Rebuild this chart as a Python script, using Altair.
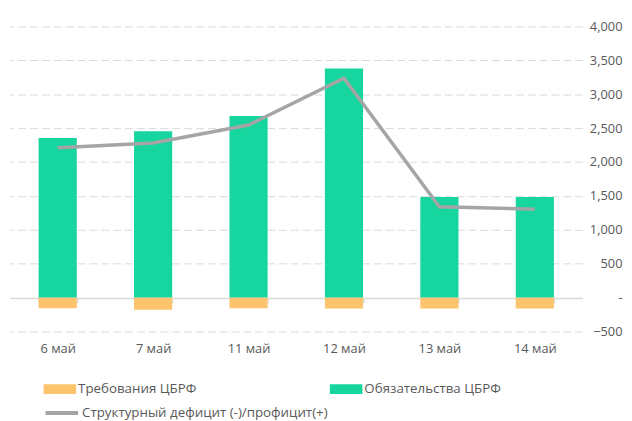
import altair as alt
import pandas as pd

categories = ["6 май", "7 май", "11 май", "12 май", "13 май", "14 май"]
claims = [-157, -178, -158, -160, -160, -160]          # Требования ЦБРФ
obligations = [2355, 2455, 2680, 3380, 1485, 1485]    # Обязательства ЦБРФ
structural = [2210, 2280, 2545, 3235, 1340, 1305]     # Структурный дефицит (-)/профицит(+)

s_claims = "Требования ЦБРФ"
s_oblig = "Обязательства ЦБРФ"
s_struct = "Структурный дефицит (-)/профицит(+)"

bars_df = pd.DataFrame(
    [{"cat": c, "series": s_claims, "value": v} for c, v in zip(categories, claims)]
    + [{"cat": c, "series": s_oblig, "value": v} for c, v in zip(categories, obligations)]
)
line_df = pd.DataFrame({"cat": categories, "series": s_struct, "value": structural})

FONT = "Open Sans"
TXT = "#595959"
GRID = "#D9D9D9"

xscale = alt.Scale(domain=categories, paddingInner=0.6, paddingOuter=0.3)
yscale = alt.Scale(domain=[-500, 4000], nice=False)

yaxis = alt.Axis(
    orient="right", values=list(range(-500, 4001, 500)),
    labelExpr="datum.value == 0 ? '-' : format(datum.value, ',')",
    labelAlign="right", labelPadding=40, labelColor=TXT, labelFontSize=13, labelFont=FONT,
    domain=False, ticks=False, grid=True, gridColor=GRID, gridDash=[8, 4], gridWidth=1,
    title=None,
)

xaxis = alt.Axis(orient="bottom", offset=-34, domain=True, domainColor=GRID, domainWidth=1.5,
                 ticks=True, tickColor=GRID, tickSize=5, tickWidth=1.5, tickBand="extent",
                 labelPadding=40, labelColor=TXT, labelFontSize=13, labelFont=FONT, labelAngle=0,
                 title=None, grid=False)

rect_path = "M-1,-0.3H1V0.3H-1Z"

bars = alt.Chart(bars_df).mark_bar().encode(
    x=alt.X("cat:N", scale=xscale, sort=categories, axis=xaxis),
    y=alt.Y("value:Q", scale=yscale, axis=yaxis, stack=None),
    color=alt.Color("series:N",
                    scale=alt.Scale(domain=[s_claims, s_oblig], range=["#FEC36D", "#17D59F"]),
                    legend=alt.Legend(orient="none", legendX=34, legendY=351, direction="horizontal",
                                      columns=2, columnPadding=135, title=None,
                                      symbolType=rect_path, symbolSize=1089, symbolStrokeWidth=0,
                                      labelColor=TXT, labelFontSize=13.5, labelFont=FONT,
                                      labelOffset=2, padding=0, labelLimit=400)),
)

line = alt.Chart(line_df).mark_line(strokeWidth=3.5).encode(
    x=alt.X("cat:N", scale=xscale, sort=categories, axis=xaxis),
    y=alt.Y("value:Q", scale=yscale, axis=yaxis),
    stroke=alt.Stroke("series:N", scale=alt.Scale(domain=[s_struct], range=["#A5A5A5"]),
                      legend=alt.Legend(orient="none", legendX=34, legendY=373, title=None,
                                        symbolType="stroke", symbolSize=1089, symbolStrokeWidth=4,
                                        labelColor=TXT, labelFontSize=13.5, labelFont=FONT,
                                        labelOffset=2, padding=0, labelLimit=400)),
)

chart = alt.layer(bars, line).resolve_legend(
    color="independent", stroke="independent"
).properties(
    width=580, height=309,
    autosize=alt.AutoSizeParams(type="none"),
    padding={"left": 2, "top": 16, "right": 42, "bottom": 88},
).configure_view(stroke=None)

chart.save("out.html", embed_options={"renderer": "svg", "actions": False})
